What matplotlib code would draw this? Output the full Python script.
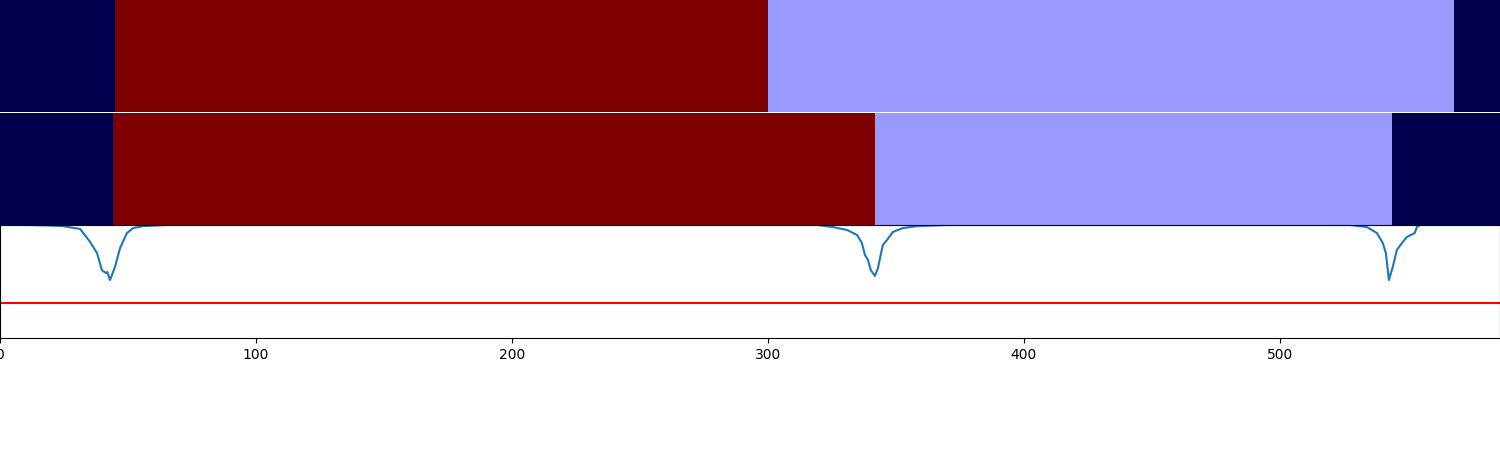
import numpy as np
import matplotlib
matplotlib.use("Agg")
import matplotlib.pyplot as plt

# number of frames in the sequence
n_frames = 586

# segment labels (run lengths per row), shown with the seismic colormap
row1_lengths = [45, 255, 268, 18]
row1_labels = [0, 5, 2, 0]
row2_lengths = [44, 298, 202, 42]
row2_labels = [0, 5, 2, 0]

# score curve
curve_x = [0, 10, 20, 24.6, 31.3, 35.2, 37.9, 39.8, 41.4, 41.9, 43.0, 44.9, 46.9, 49.6,
           52.0, 55.9, 65, 100, 200, 300, 319.1, 325.4, 330.9, 334.8, 336.7, 337.9,
           339.1, 340.2, 341.8, 343.0, 343.8, 344.9, 346.5, 348.8, 352.7, 358.2, 370,
           450, 520, 527.3, 534.0, 537.9, 540.2, 541.4, 542.6, 544.1, 545.7, 547.7,
           549.6, 552.7, 553.5, 554.7, 570, 585]
curve_y = [1.0, 1.0, 0.995, 0.99, 0.965, 0.85, 0.752, 0.60, 0.575, 0.584, 0.513, 0.628,
           0.796, 0.929, 0.973, 0.99, 1.0, 1.0, 1.0, 1.0, 1.0, 0.982, 0.956, 0.912,
           0.841, 0.735, 0.69, 0.60, 0.549, 0.62, 0.708, 0.823, 0.867, 0.938, 0.973,
           0.99, 1.0, 1.0, 1.0, 1.0, 0.982, 0.929, 0.841, 0.752, 0.513, 0.628, 0.779,
           0.841, 0.894, 0.929, 0.982, 1.0, 1.0, 1.0]
threshold = 0.31

fig = plt.figure(figsize=(15, 4.5), dpi=100)
H = 450.0
ax1 = fig.add_axes([0, 1 - 112 / H, 1, 112 / H])
ax2 = fig.add_axes([0, 1 - 225 / H, 1, 112 / H])
ax3 = fig.add_axes([0, 1 - 338 / H, 1, 113 / H])

for ax, lengths, labels in [(ax1, row1_lengths, row1_labels), (ax2, row2_lengths, row2_labels)]:
    row = np.repeat(labels, lengths)[np.newaxis, :]
    ax.imshow(row, aspect="auto", cmap="seismic", vmin=0, vmax=5,
              interpolation="nearest", extent=(0, n_frames, 0, 1))
    ax.axis("off")

ax3.plot(curve_x, curve_y)
ax3.axhline(threshold, color="r")
ax3.set_xlim(0, n_frames)
ax3.set_ylim(0, 1)

fig.savefig("out.png")
